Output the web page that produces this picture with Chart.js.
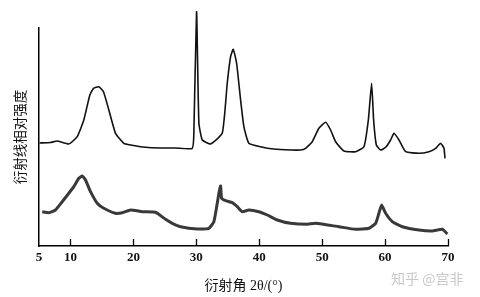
<!DOCTYPE html>
<html>
<head>
<meta charset="utf-8">
<script src="https://cdn.jsdelivr.net/npm/chart.js@4/dist/chart.umd.min.js"></script>
<style>
html,body{margin:0;padding:0;background:#fff;}
#wrap{position:relative;width:480px;height:297px;}
#wm{position:absolute;left:391px;top:268px;font-family:"Noto Sans CJK SC","Noto Sans",sans-serif;font-size:14px;color:#c9c9c9;white-space:nowrap;}
</style>
</head>
<body>
<div id="wrap">
<canvas id="c" width="480" height="297"></canvas>
<div id="wm">知乎 @宫非</div>
</div>
<script>
// Tick labels on the 2θ axis
const tickLabels = [5, 10, 20, 30, 40, 50, 60, 70];

// Upper trace: 2θ (°) and relative intensity (arbitrary units)
const upperAngle = [5.08, 6.83, 7.89, 9.74, 11.07, 12.12, 13.08, 13.66, 14.51, 15.25, 16.10, 17.16, 18.48, 19.55, 21.93, 24.32, 26.70, 29.36, 29.61, 30.04, 30.41, 30.95, 32.27, 34.13, 34.92, 35.45, 35.87, 36.40, 37.04, 37.56, 38.35, 40.21, 42.28, 44.98, 46.57, 47.37, 48.43, 49.48, 50.55, 51.34, 52.14, 53.46, 55.32, 56.64, 57.34, 57.86, 58.18, 58.61, 59.29, 60.09, 60.88, 61.41, 62.21, 63.27, 65.38, 66.97, 68.04, 68.83, 69.36, 69.52];
const upperIntensity = [103, 103.5, 105, 102, 109.3, 126, 151, 157.7, 159.3, 154.3, 136, 112.7, 102.7, 101, 98.7, 98, 98, 97.7, 113, 234.3, 123, 106, 102, 113, 163, 189.3, 196.7, 183, 146, 119.3, 102.7, 99.3, 97, 96, 96, 97.7, 104.3, 117.7, 123.7, 116, 104.3, 95, 94.3, 99.3, 126, 162.7, 126, 101, 96, 98.7, 106, 112.7, 106, 94.3, 92.7, 94.3, 97.7, 102.7, 97.7, 87.7];

// Lower trace
const lowerAngle = [5.51, 6.56, 7.62, 8.69, 9.74, 10.53, 11.33, 11.87, 12.39, 13.19, 14.25, 15.30, 17.16, 18.23, 19.55, 21.41, 23.52, 25.11, 26.18, 27.50, 30.15, 31.99, 32.79, 33.33, 33.59, 33.86, 34.02, 34.65, 35.72, 36.51, 37.31, 38.35, 39.94, 41.28, 42.87, 44.98, 47.64, 48.96, 52.66, 55.32, 57.43, 58.50, 59.02, 59.45, 60.09, 61.15, 62.74, 65.38, 67.51, 69.10, 69.90];
const lowerIntensity = [34.3, 33.3, 36, 44.3, 52.7, 59.3, 67.7, 70, 66, 54.3, 42.7, 37.7, 32.7, 33.3, 36, 34.3, 33.7, 26.7, 22.7, 19.3, 17, 17.7, 24.3, 42.7, 52.7, 60, 47.7, 45.3, 43.3, 39.3, 34.3, 36, 34.3, 31, 26, 22.7, 21.7, 22.7, 19.3, 16.7, 17.7, 22.7, 32.7, 41, 32.7, 24.3, 19.3, 16, 15, 16.7, 12];

const xTitle = '衍射角 2θ/(°)';
const yTitle = '衍射线相对强度';

const toPts = (xs, ys) => xs.map((x, i) => ({x: x, y: ys[i]}));

// Inward tick marks drawn through the x scale
const inwardTicks = {
  id: 'inwardTicks',
  afterDatasetsDraw(chart) {
    const xs = chart.scales.x, ys = chart.scales.y, ctx = chart.ctx;
    ctx.save();
    ctx.strokeStyle = '#000';
    ctx.lineWidth = 1.3;
    tickLabels.forEach(v => {
      if (v === xs.min) return;
      const px = Math.round(xs.getPixelForValue(v)) + 0.5;
      ctx.beginPath();
      ctx.moveTo(px, ys.bottom);
      ctx.lineTo(px, ys.bottom - 7);
      ctx.stroke();
    });
    ctx.restore();
  }
};

new Chart(document.getElementById('c'), {
  type: 'line',
  data: {
    datasets: [
      {data: toPts(upperAngle, upperIntensity), borderColor: '#111', borderWidth: 1.6, pointRadius: 0, tension: 0.15, clip: false},
      {data: toPts(lowerAngle, lowerIntensity), borderColor: 'rgba(30,30,30,0.88)', borderWidth: 3, pointRadius: 0, tension: 0.15, clip: false}
    ]
  },
  options: {
    responsive: false,
    animation: false,
    devicePixelRatio: 1,
    layout: {padding: {top: 28, right: 32, left: 0, bottom: 2}},
    plugins: {legend: {display: false}, tooltip: {enabled: false}},
    scales: {
      x: {
        type: 'linear',
        min: 5, max: 70,
        afterBuildTicks: (s) => { s.ticks = tickLabels.map(v => ({value: v})); },
        grid: {display: false, drawTicks: false},
        border: {display: true, color: '#000', width: 1.5},
        ticks: {color: '#111', padding: 4, maxRotation: 0, autoSkip: false, font: {family: '"Liberation Serif", "Times New Roman", serif', size: 13, weight: 'bold'}},
        title: {display: true, text: xTitle, color: '#111', padding: {top: 4, bottom: 0}, font: {family: '"Liberation Serif", "Noto Sans CJK SC", serif', size: 14}},
        afterFit: (s) => { s.height = 49; }
      },
      y: {
        min: 0, max: 218,
        grid: {display: false, drawTicks: false},
        border: {display: true, color: '#000', width: 1.5},
        ticks: {display: false},
        title: {display: true, text: yTitle, color: '#111', padding: {top: 12, bottom: 0}, font: {family: '"Noto Sans CJK SC", serif', size: 13.5}},
        afterFit: (s) => { s.width = 39; }
      }
    }
  },
  plugins: [inwardTicks]
});
</script>
</body>
</html>
